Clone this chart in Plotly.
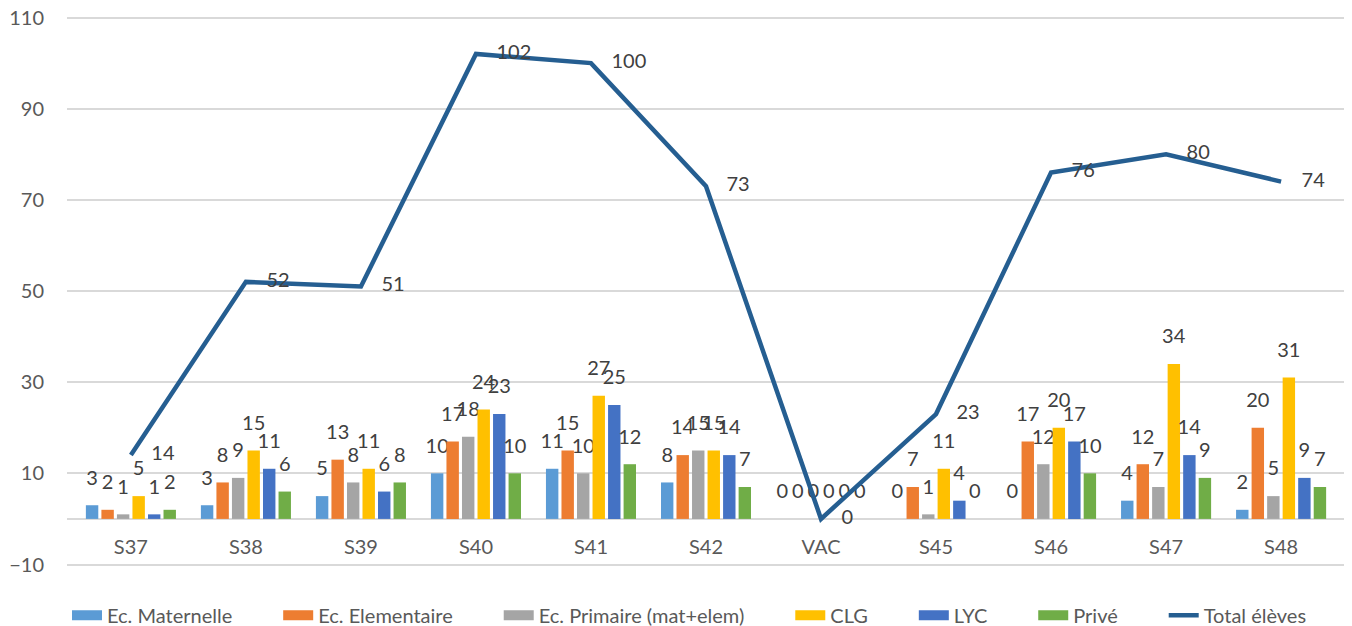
import plotly.graph_objects as go

categories = ["S37", "S38", "S39", "S40", "S41", "S42", "VAC", "S45", "S46", "S47", "S48"]
maternelle = [3, 3, 5, 10, 11, 8, 0, 0, 0, 4, 2]
elementaire = [2, 8, 13, 17, 15, 14, 0, 7, 17, 12, 20]
primaire = [1, 9, 8, 18, 10, 15, 0, 1, 12, 7, 5]
clg = [5, 15, 11, 24, 27, 15, 0, 11, 20, 34, 31]
lyc = [1, 11, 6, 23, 25, 14, 0, 4, 17, 14, 9]
prive = [2, 6, 8, 10, 12, 7, 0, 0, 10, 9, 7]
total = [14, 52, 51, 102, 100, 73, 0, 23, 76, 80, 74]
y_ticks = [-10, 10, 30, 50, 70, 90, 110]

series = [
    ("Ec. Maternelle", maternelle, "#5B9BD5"),
    ("Ec. Elementaire", elementaire, "#ED7D31"),
    ("Ec. Primaire (mat+elem)", primaire, "#A5A5A5"),
    ("CLG", clg, "#FFC000"),
    ("LYC", lyc, "#4472C4"),
    ("Privé", prive, "#70AD47"),
]

FONT = "Lato, 'Open Sans', sans-serif"
LABEL_COLOR = "#404040"
LABEL_GAP = 3.0  # gap (in axis units) between a bar's end and its label
LEGEND_PAD = "\u00a0" * 8  # extra spacing after each legend entry

fig = go.Figure()
for i, (name, vals, color) in enumerate(series):
    fig.add_trace(go.Bar(
        x=categories, y=vals, name=name, offsetgroup=str(i), legendgroup=name,
        marker=dict(color=color, line=dict(width=0)),
        showlegend=False, hoverinfo="y+name",
    ))
    # transparent spacer bar carrying the data label a bit above the bar end
    fig.add_trace(go.Bar(
        x=categories, y=[LABEL_GAP] * len(vals), base=vals, offsetgroup=str(i),
        legendgroup=name,
        marker=dict(color="rgba(0,0,0,0)", line=dict(width=0)),
        text=[str(v) for v in vals], textposition="outside",
        constraintext="none", cliponaxis=False,
        textfont=dict(family=FONT, size=20, color=LABEL_COLOR),
        showlegend=False, hoverinfo="skip",
    ))

# legend entries with wide rectangular swatches (Excel style)
for name, vals, color in series:
    fig.add_trace(go.Scatter(
        x=[None], y=[None], name=name + LEGEND_PAD, legendgroup=name, mode="lines",
        line=dict(color=color, width=14), hoverinfo="skip",
    ))

fig.add_trace(go.Scatter(
    x=categories, y=total, name="Total élèves",
    mode="lines+text",
    line=dict(color="#255E91", width=4.5),
    texttemplate="\u00a0\u00a0\u00a0\u00a0%{y}",
    textposition="middle right",
    cliponaxis=False,
    textfont=dict(family=FONT, size=20, color=LABEL_COLOR),
))

pad = 0.33
ymin, ymax = y_ticks[0] - pad, y_ticks[-1] + pad
# page body has an 8px default margin, so the figure is 8px smaller and offset
fig.update_layout(
    width=1344, height=618,
    margin=dict(l=59, r=7, t=8, b=60, autoexpand=False),
    paper_bgcolor="white", plot_bgcolor="white",
    barmode="group", bargap=0.19, bargroupgap=0.2,
    font=dict(family=FONT, size=20, color="#595959"),
    showlegend=True,
    legend=dict(orientation="h", x=0.0, xanchor="left",
                y=-0.0896, yanchor="middle",
                font=dict(family=FONT, size=20, color="#595959"),
                tracegroupgap=0),
)
fig.update_yaxes(
    range=[ymin, ymax], tickvals=y_ticks,
    showgrid=True, gridcolor="#D9D9D9", gridwidth=1.5,
    zeroline=True, zerolinecolor="#D9D9D9", zerolinewidth=1.5,
    showline=False, ticks="", ticklabelstandoff=22, automargin=False,
    ticklabeloverflow="allow",
    tickfont=dict(family=FONT, size=20, color="#595959"),
)
fig.update_xaxes(
    type="category", showgrid=False, showline=False, zeroline=False, ticks="",
    anchor="free", position=(0 - ymin) / (ymax - ymin), automargin=False,
    ticklabelstandoff=14,
    tickfont=dict(family=FONT, size=20, color="#595959"),
)

fig.write_html("out.html")
